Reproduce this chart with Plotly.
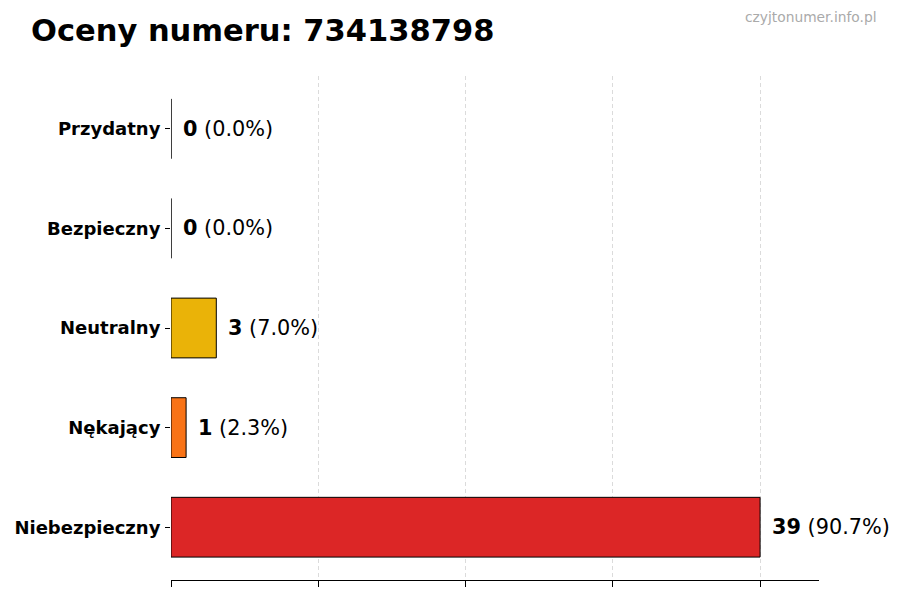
import numpy as np
import plotly.graph_objects as go

# data, bottom to top as drawn
categories = ["Niebezpieczny", "Nękający", "Neutralny", "Bezpieczny", "Przydatny"]
counts = [39, 1, 3, 0, 0]
colors = ["#dc2626", "#f97316", "#eab308", "#22c55e", "#3b82f6"]
phone_number = "734138798"
site = "czyjtonumer.info.pl"

total = sum(counts)
max_count = max(counts)
x_ticks = np.linspace(0, max_count, 5)

FONT = "DejaVu Sans"

fig = go.Figure()
fig.add_trace(
    go.Bar(
        x=counts,
        y=categories,
        orientation="h",
        width=0.6,
        marker=dict(color=colors, line=dict(color="black", width=1)),
        hoverinfo="skip",
    )
)

# value labels next to each bar
for cat, val in zip(categories, counts):
    pct = 100 * val / total if total else 0
    fig.add_annotation(
        x=val,
        y=cat,
        text=f"<b>{val}</b> ({pct:.1f}%)",
        showarrow=False,
        xanchor="left",
        yanchor="middle",
        xshift=10,
        font=dict(family=FONT, size=20.8, color="black"),
    )

fig.add_annotation(
    text=f"<b>Oceny numeru: {phone_number}</b>",
    xref="paper",
    yref="paper",
    x=-0.219,
    y=1.091,
    xanchor="left",
    yanchor="middle",
    showarrow=False,
    font=dict(family=FONT, size=30.5, color="black"),
)
fig.add_annotation(
    text=site,
    xref="paper",
    yref="paper",
    x=1.093,
    y=1.117,
    xanchor="right",
    yanchor="middle",
    showarrow=False,
    font=dict(family=FONT, size=13.8, color="#aaaaaa"),
)

# page body adds 8px, so the figure is 8px smaller
fig.update_layout(
    width=892,
    height=592,
    margin=dict(l=163, r=81, t=68, b=20),
    plot_bgcolor="white",
    paper_bgcolor="white",
    showlegend=False,
    font=dict(family=FONT, color="black"),
)
fig.update_xaxes(
    range=[0, max_count * 1.1],
    tickvals=x_ticks,
    showticklabels=False,
    ticks="outside",
    ticklen=6,
    tickcolor="black",
    showline=True,
    linecolor="black",
    linewidth=1.2,
    showgrid=True,
    gridcolor="rgba(190,190,190,0.55)",
    griddash="4px,3px",
    gridwidth=1,
    zeroline=False,
    layer="above traces",
    automargin=False,
)
fig.update_yaxes(
    categoryorder="array",
    categoryarray=categories,
    range=[-0.53, len(categories) - 1 + 0.53],
    ticks="outside",
    ticklen=5,
    tickcolor="black",
    ticklabelstandoff=1,
    showline=False,
    showgrid=False,
    zeroline=False,
    automargin=False,
    tickfont=dict(family=FONT, size=18, color="black"),
    tickprefix="<b>",
    ticksuffix="</b>",
)

fig.write_html("out.html")
